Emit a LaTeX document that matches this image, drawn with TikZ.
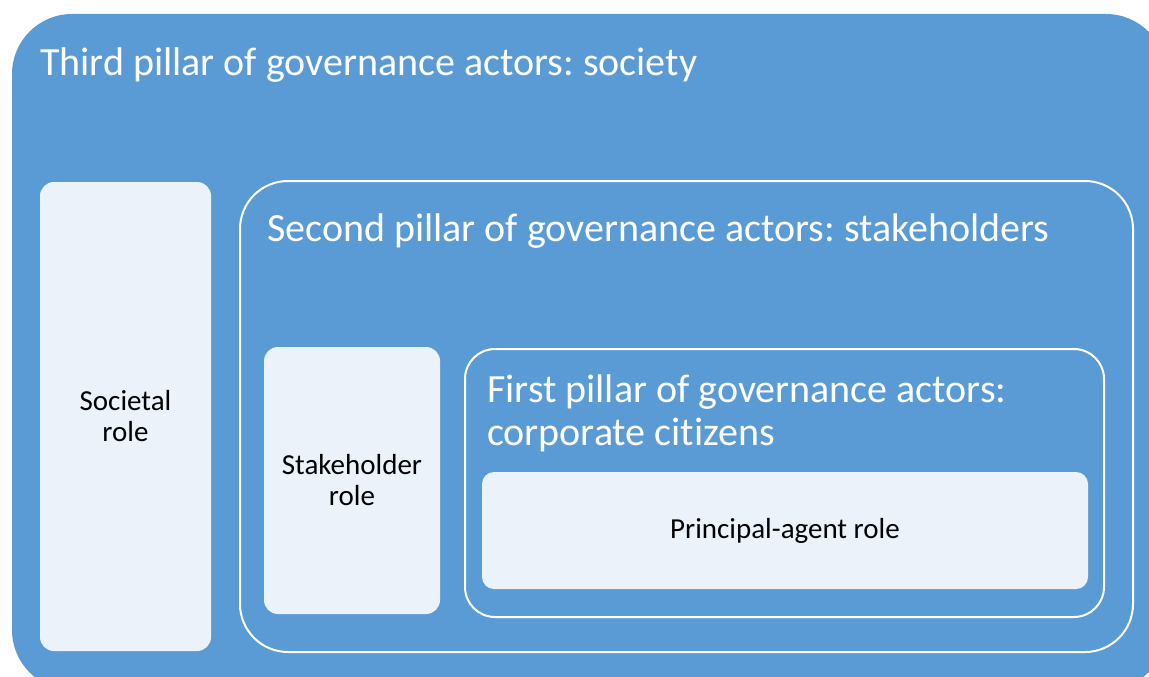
\documentclass[tikz,border=0pt]{standalone}
\usepackage{fontspec}
\setmainfont{Carlito}[Ligatures=NoCommon]
\usetikzlibrary{positioning}

\definecolor{pillarblue}{HTML}{5B9BD5}
\definecolor{rolefill}{HTML}{EBF2FA}

\tikzset{
  rolebox/.style={rectangle, fill=rolefill, rounded corners=14pt, align=center, text=black, font=\fontsize{29}{31}\selectfont},
  pillarbox/.style={rectangle, draw=white, line width=2pt, fill=pillarblue},
  pillartitle/.style={anchor=base west, inner sep=0pt, text=white, align=left, font=\fontsize{40}{43}\selectfont}
}

\begin{document}
\frenchspacing
\begin{tikzpicture}[x=1pt, y=-1pt]
\useasboundingbox (0,0) rectangle (1149,677);
\clip (0,0) rectangle (1149,677);
\fill[white] (0,0) rectangle (1149,677);

% third pillar
\node[rectangle, fill=pillarblue, rounded corners=60pt, minimum width=1154pt, minimum height=676pt] (society) at (589,352) {};
\node[pillartitle] (societytitle) at (40,76) {Third pillar of governance actors: society};

% societal role
\node[rolebox, minimum width=171pt, minimum height=469pt] (societal) at (125.5,416.5) {Societal\\role};

% second pillar
\node[pillarbox, rounded corners=48pt, minimum width=893pt, minimum height=471pt] (stakeholders) at (686.5,416.5) {};
\node[pillartitle] (stakeholderstitle) at (267,241) {Second pillar of governance actors: stakeholders};

% stakeholder role
\node[rolebox, minimum width=176pt, minimum height=267pt] (stakeholder) at (352,480.5) {Stakeholder\\role};

% first pillar
\node[pillarbox, rounded corners=30pt, minimum width=639pt, minimum height=268pt] (citizens) at (784.5,483) {};
\node[pillartitle] (citizenstitle) at (487,445) {First pillar of governance actors:\\corporate citizens};

% principal-agent role
\node[rolebox, rounded corners=12pt, minimum width=606pt, minimum height=117pt] (principal) at (785,530.5) {Principal-agent role};
\end{tikzpicture}
\end{document}
